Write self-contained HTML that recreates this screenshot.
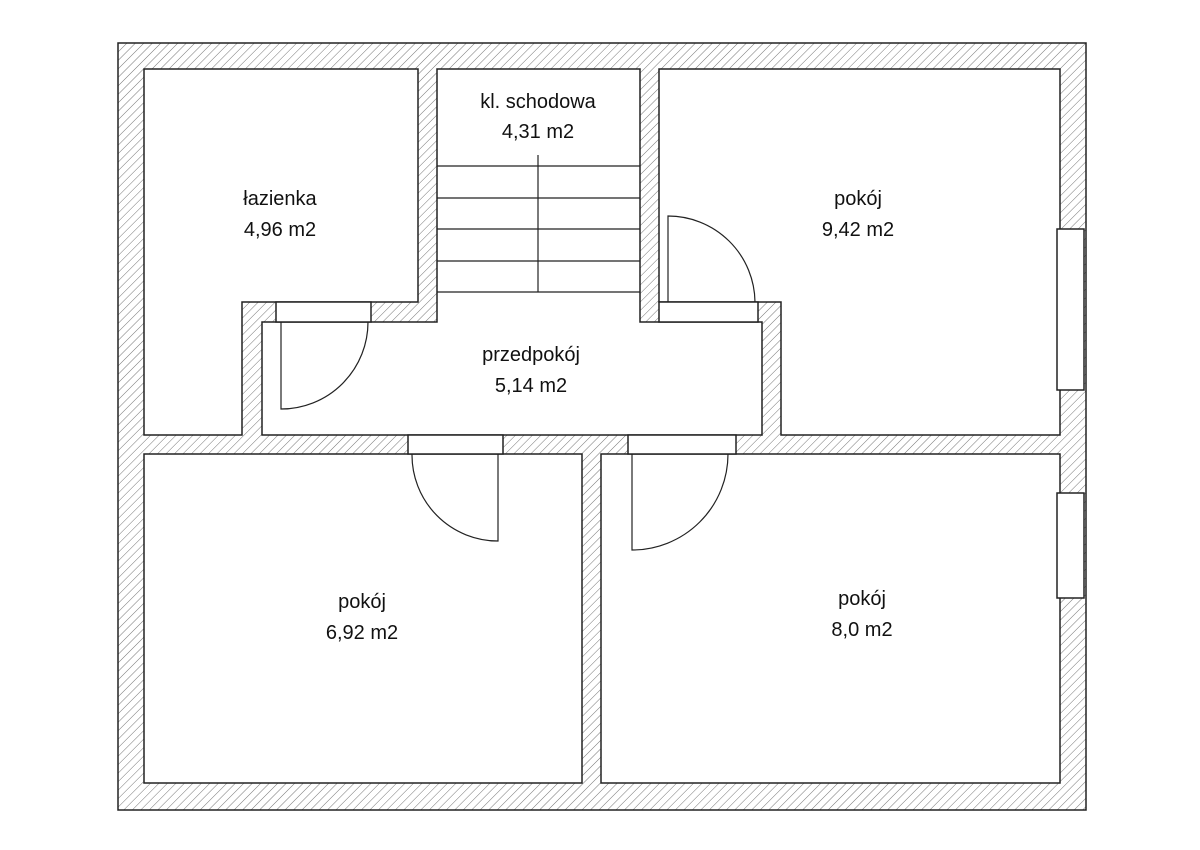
<!DOCTYPE html>
<html><head><meta charset="utf-8"><style>
html,body{margin:0;padding:0;background:#fff}
svg{display:block}
text{font-family:"Liberation Sans",sans-serif;font-size:20px;fill:#111;text-anchor:middle}
</style></head><body>
<svg width="1200" height="850" viewBox="0 0 1200 850" xmlns="http://www.w3.org/2000/svg">
<defs>
<pattern id="h" width="6" height="6" patternUnits="userSpaceOnUse" patternTransform="rotate(45)">
<rect width="6" height="6" fill="#fff"/>
<line x1="0" y1="0" x2="0" y2="6" stroke="#666" stroke-width="0.9"/>
</pattern>
</defs>
<g stroke="#222" stroke-width="1.5" fill="#fff">
<rect x="118" y="43" width="968" height="767" fill="url(#h)"/>
<!-- bathroom -->
<polygon points="144,69 418,69 418,302 242,302 242,435 144,435"/>
<!-- stair + hall -->
<polygon points="437,69 640,69 640,322 762,322 762,435 262,435 262,322 437,322"/>
<!-- room 9.42 -->
<polygon points="659,69 1060,69 1060,435 781,435 781,302 659,302"/>
<!-- lower rooms -->
<rect x="144" y="454" width="438" height="329"/>
<rect x="601" y="454" width="459" height="329"/>
<!-- door openings -->
<rect x="276" y="302" width="95" height="20"/>
<rect x="659" y="302" width="99" height="20"/>
<rect x="408" y="435" width="95" height="19"/>
<rect x="628" y="435" width="108" height="19"/>
<!-- windows -->
<rect x="1057" y="229" width="27" height="161"/>
<rect x="1057" y="493" width="27" height="105"/>
</g>
<g stroke="#222" stroke-width="1.2" fill="none">
<!-- stairs -->
<line x1="437" y1="166" x2="640" y2="166"/>
<line x1="437" y1="198" x2="640" y2="198"/>
<line x1="437" y1="229" x2="640" y2="229"/>
<line x1="437" y1="261" x2="640" y2="261"/>
<line x1="437" y1="292" x2="640" y2="292"/>
<line x1="538" y1="155" x2="538" y2="292"/>
<!-- doors -->
<path d="M281,322 L281,409 A87,87 0 0 0 368,322"/>
<path d="M668,302 L668,216 A87,87 0 0 1 755,302"/>
<path d="M498,454 L498,541 A86,86 0 0 1 412,454"/>
<path d="M632,454 L632,550 A96,96 0 0 0 728,454"/>
</g>
<text x="280" y="205">łazienka</text>
<text x="280" y="236">4,96 m2</text>
<text x="538" y="108">kl. schodowa</text>
<text x="538" y="138">4,31 m2</text>
<text x="858" y="205">pokój</text>
<text x="858" y="236">9,42 m2</text>
<text x="531" y="361">przedpokój</text>
<text x="531" y="392">5,14 m2</text>
<text x="362" y="608">pokój</text>
<text x="362" y="639">6,92 m2</text>
<text x="862" y="605">pokój</text>
<text x="862" y="636">8,0 m2</text>
</svg>
</body></html>
